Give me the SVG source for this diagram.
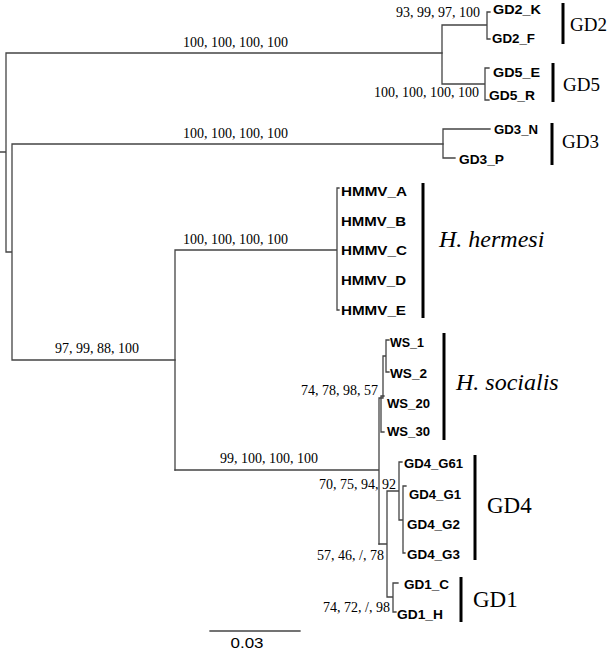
<svg xmlns="http://www.w3.org/2000/svg" width="609" height="650" viewBox="0 0 609 650">
<style>
.br{fill:none;stroke:#444;stroke-width:1.3;stroke-linecap:square}
.bk{stroke:#000;stroke-width:3;fill:none}
.tip{font-family:"Liberation Sans",Arial,sans-serif;font-weight:bold;font-size:13.5px;fill:#000}
.sup{font-family:"Liberation Serif","Times New Roman",serif;font-size:14px;fill:#000}
.cl{font-family:"Liberation Serif","Times New Roman",serif;fill:#000}
.it{font-style:italic;font-size:24px}
</style>
<rect width="609" height="650" fill="#fff"/>
<g id="connectors">
<path class="br" d="M0,152H6 M6,53V252 M6,53H442 M6,252H12 M12,144V360 M12,144H443 M12,360H175"/>
<path class="br" d="M442,25V84 M442,25H487 M487,12V39 M487,12H490 M487,39H490 M442,84H485 M485,68V100 M485,68H489 M485,100H489"/>
<path class="br" d="M443,129V158 M443,129H490 M443,158H455"/>
<path class="br" d="M175,250V470 M175,250H337 M337,188V310 M337,188H339 M337,310H339"/>
<path class="br" d="M175,470H379 M379,398V544 M380,398H383 M383,356V398 M383,356H386 M386,340V372 M386,340H389 M386,372H389 M381,396V432 M381,396H384 M381,432H384"/>
<path class="br" d="M379,544H387 M387,491V597 M387,491H399 M399,462V520 M399,462H402 M399,520H403 M403,486V553 M403,486H406 M403,553H405 M387,597H393 M393,583V612 M393,583H398 M393,612H396"/>
<path class="br" d="M210,631H300"/>
</g>
<g id="labels-support">
<text class="sup" x="183" y="47">100, 100, 100, 100</text>
<text class="sup" x="480" y="17" text-anchor="end">93, 99, 97, 100</text>
<text class="sup" x="479" y="97" text-anchor="end">100, 100, 100, 100</text>
<text class="sup" x="183" y="138">100, 100, 100, 100</text>
<text class="sup" x="183" y="244">100, 100, 100, 100</text>
<text class="sup" x="55" y="353">97, 99, 88, 100</text>
<text class="sup" x="378" y="395" text-anchor="end">74, 78, 98, 57</text>
<text class="sup" x="220" y="463">99, 100, 100, 100</text>
<text class="sup" x="396" y="489" text-anchor="end">70, 75, 94, 92</text>
<text class="sup" x="384" y="560" text-anchor="end">57, 46, /, 78</text>
<text class="sup" x="390" y="612" text-anchor="end">74, 72, /, 98</text>
</g>
<g id="GD2">
<text class="tip" x="493" y="14" textLength="48" lengthAdjust="spacingAndGlyphs">GD2_K</text>
<text class="tip" x="492" y="43" textLength="43" lengthAdjust="spacingAndGlyphs">GD2_F</text>
<path class="bk" d="M563,3V44"/>
<text class="cl" x="570" y="31" font-size="19">GD2</text>
</g>
<g id="GD5">
<text class="tip" x="493" y="77" textLength="47" lengthAdjust="spacingAndGlyphs">GD5_E</text>
<text class="tip" x="489" y="100" textLength="46" lengthAdjust="spacingAndGlyphs">GD5_R</text>
<path class="bk" d="M553,63V102"/>
<text class="cl" x="563" y="91" font-size="19">GD5</text>
</g>
<g id="GD3">
<text class="tip" x="494" y="134" textLength="44" lengthAdjust="spacingAndGlyphs">GD3_N</text>
<text class="tip" x="459" y="164" textLength="45" lengthAdjust="spacingAndGlyphs">GD3_P</text>
<path class="bk" d="M552,123V165"/>
<text class="cl" x="562" y="148" font-size="19">GD3</text>
</g>
<g id="hermesi">
<text class="tip" x="341" y="196" textLength="66" lengthAdjust="spacingAndGlyphs">HMMV_A</text>
<text class="tip" x="341" y="226" textLength="65" lengthAdjust="spacingAndGlyphs">HMMV_B</text>
<text class="tip" x="341" y="255" textLength="66" lengthAdjust="spacingAndGlyphs">HMMV_C</text>
<text class="tip" x="341" y="285" textLength="65" lengthAdjust="spacingAndGlyphs">HMMV_D</text>
<text class="tip" x="341" y="315" textLength="65" lengthAdjust="spacingAndGlyphs">HMMV_E</text>
<path class="bk" d="M423,183V318"/>
<text class="cl it" x="439" y="247">H. hermesi</text>
</g>
<g id="socialis">
<text class="tip" x="390" y="347" textLength="34" lengthAdjust="spacingAndGlyphs">WS_1</text>
<text class="tip" x="390" y="378" textLength="37" lengthAdjust="spacingAndGlyphs">WS_2</text>
<text class="tip" x="387" y="408" textLength="43" lengthAdjust="spacingAndGlyphs">WS_20</text>
<text class="tip" x="387" y="436" textLength="43" lengthAdjust="spacingAndGlyphs">WS_30</text>
<path class="bk" d="M444,333V440"/>
<text class="cl it" x="456" y="390">H. socialis</text>
</g>
<g id="GD4">
<text class="tip" x="404" y="468" textLength="59" lengthAdjust="spacingAndGlyphs">GD4_G61</text>
<text class="tip" x="409" y="499" textLength="52" lengthAdjust="spacingAndGlyphs">GD4_G1</text>
<text class="tip" x="407" y="529" textLength="53" lengthAdjust="spacingAndGlyphs">GD4_G2</text>
<text class="tip" x="407" y="559" textLength="53" lengthAdjust="spacingAndGlyphs">GD4_G3</text>
<path class="bk" d="M475,455V560"/>
<text class="cl" x="487" y="513" font-size="23">GD4</text>
</g>
<g id="GD1">
<text class="tip" x="404" y="589" textLength="45" lengthAdjust="spacingAndGlyphs">GD1_C</text>
<text class="tip" x="397" y="619" textLength="46" lengthAdjust="spacingAndGlyphs">GD1_H</text>
<path class="bk" d="M461,577V622"/>
<text class="cl" x="473" y="607" font-size="23">GD1</text>
</g>
<g id="scale">
<text x="247" y="648" text-anchor="middle" font-family="Liberation Sans, Arial, sans-serif" font-size="14" textLength="33" lengthAdjust="spacingAndGlyphs">0.03</text>
</g>
</svg>
